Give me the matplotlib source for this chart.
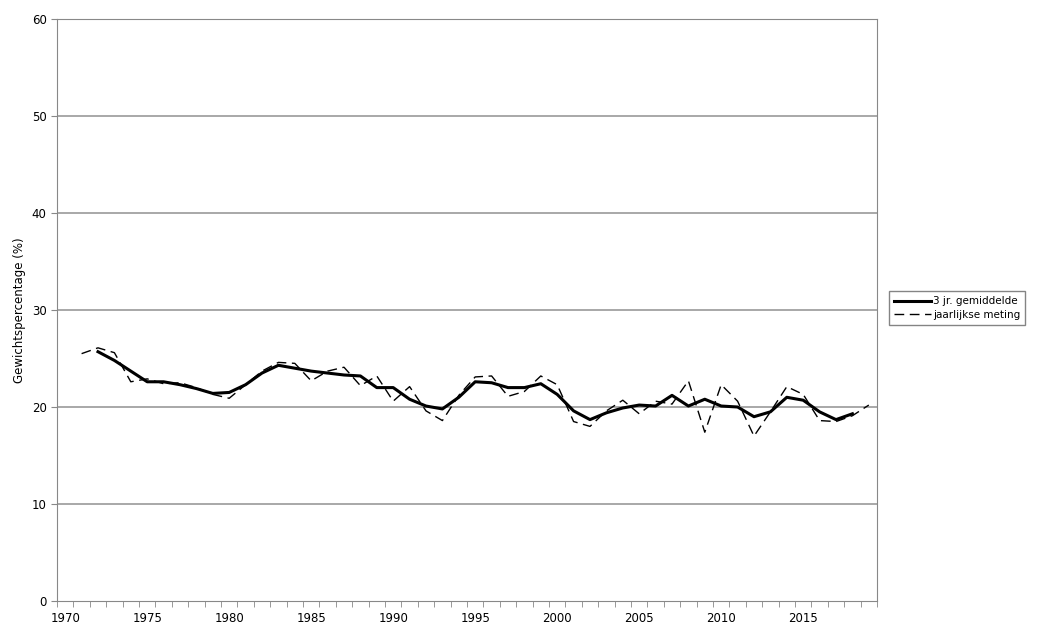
import numpy as np
from matplotlib import pyplot as plt

years = np.arange(1971, 2020)
annual = [25.5, 26.1, 25.6, 22.6, 22.9, 22.4, 22.5, 22.0, 21.3, 20.9,
          22.3, 23.7, 24.6, 24.5, 22.7, 23.7, 24.1, 22.2, 23.2, 20.6,
          22.1, 19.6, 18.6, 21.2, 23.1, 23.2, 21.1, 21.6, 23.2, 22.3,
          18.5, 18.0, 19.6, 20.7, 19.3, 20.6, 20.3, 22.7, 17.4, 22.3,
          20.6, 17.0, 19.5, 22.1, 21.3, 18.6, 18.5, 19.1, 20.2]
avg_years = np.arange(1972, 2019)
avg3 = [25.7, 24.8, 23.7, 22.6, 22.6, 22.3, 21.9, 21.4, 21.5, 22.3,
        23.5, 24.3, 24.0, 23.7, 23.5, 23.3, 23.2, 22.0, 22.0, 20.8,
        20.1, 19.8, 21.0, 22.6, 22.5, 22.0, 22.0, 22.4, 21.3, 19.6,
        18.7, 19.4, 19.9, 20.2, 20.1, 21.2, 20.1, 20.8, 20.1, 20.0,
        19.0, 19.5, 21.0, 20.7, 19.5, 18.7, 19.3]

fig = plt.figure(figsize=(10.52, 6.26), dpi=100)
ax = fig.add_axes([57 / 1052, 1 - 601 / 626, (877 - 57) / 1052, (601 - 19) / 626])

for y in range(10, 61, 10):
    ax.axhline(y, color="#999999", lw=1.2, zorder=1)

ax.plot(avg_years, avg3, color="black", lw=2.2, label="3 jr. gemiddelde", zorder=3)
ax.plot(years, annual, color="black", lw=1, ls=(0, (7, 4)), label="jaarlijkse meting", zorder=2)

ax.set_xlim(1969.5, 2019.5)
ax.set_ylim(0, 60)
ax.set_xticks(np.arange(1970, 2016, 5))
ax.set_xticks(np.arange(1969.5, 2020, 1), minor=True)
ax.tick_params(axis="x", which="major", length=0, labelsize=8.5, pad=8)
ax.tick_params(axis="x", which="minor", length=4, direction="out", color="#888888")
ax.set_yticks(range(0, 61, 10))
ax.tick_params(axis="y", length=4, direction="out", labelsize=8.5, color="#888888")
for s in ax.spines.values():
    s.set_color("#888888")
ax.set_ylabel("Gewichtspercentage (%)", fontsize=8.5)

fig.legend(loc="center left", bbox_to_anchor=(884 / 1052, 1 - 308 / 626), fontsize=7.5,
           frameon=True, fancybox=False, edgecolor="#666666", handlelength=3.5,
           borderpad=0.5, labelspacing=0.3, handletextpad=0.2)

fig.savefig("out.png", dpi=100)
